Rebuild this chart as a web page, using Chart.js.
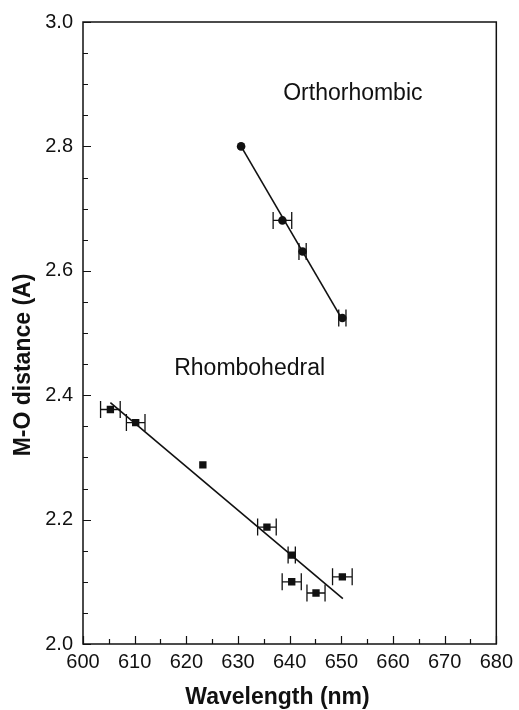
<!DOCTYPE html>
<html>
<head>
<meta charset="utf-8">
<script src="https://cdn.jsdelivr.net/npm/chart.js@4.4.1/dist/chart.umd.min.js"></script>
<style>
  html, body { margin: 0; padding: 0; background: #fff; }
  canvas { display: block; }
</style>
</head>
<body>
<canvas id="chart" width="519" height="710"></canvas>
<script>
// Orthorhombic phase: measured points, horizontal uncertainty and linear fit
const orthoWavelength = [630.6, 638.6, 642.5, 650.2];
const orthoDistance = [2.800, 2.681, 2.631, 2.524];
const orthoWavelengthErr = [0, 1.8, 0.7, 0.7];
const orthoFitWavelength = [630.6, 650.3];
const orthoFitDistance = [2.800, 2.520];

// Rhombohedral phase: measured points, horizontal uncertainty and linear fit
const rhomboWavelength = [605.3, 610.2, 623.2, 635.6, 640.4, 640.4, 645.1, 650.2];
const rhomboDistance = [2.377, 2.356, 2.288, 2.188, 2.143, 2.100, 2.082, 2.108];
const rhomboWavelengthErr = [1.9, 1.8, 0, 1.8, 0.7, 1.85, 1.75, 1.9];
const rhomboFitWavelength = [605.3, 650.3];
const rhomboFitDistance = [2.388, 2.073];

// Labelled tick values (minor ticks fall between them)
const xTickLabels = [600, 610, 620, 630, 640, 650, 660, 670, 680];
const yTickLabels = [2.0, 2.2, 2.4, 2.6, 2.8, 3.0];

const FONT = "'Liberation Sans', Arial, Helvetica, sans-serif";
const INK = '#111';

const near = (a, b) => Math.abs(a - b) < 1e-6;
const isMajorX = v => xTickLabels.some(t => near(t, v));
const isMajorY = v => yTickLabels.some(t => near(t, v));

const toPoints = (xs, ys) => xs.map((x, i) => ({ x, y: ys[i] }));

// Box frame with inward major/minor tick marks on the left and bottom axes
const frameAndTicks = {
  id: 'frameAndTicks',
  afterDraw(chart) {
    const { ctx, chartArea: a, scales: { x, y } } = chart;
    ctx.save();
    ctx.strokeStyle = INK;
    ctx.lineWidth = 1.5;
    ctx.strokeRect(a.left, a.top, a.right - a.left, a.bottom - a.top);
    ctx.lineWidth = 1.2;
    ctx.beginPath();
    x.ticks.forEach(t => {
      const px = Math.round(x.getPixelForValue(t.value)) + 0.5;
      const len = isMajorX(t.value) ? 8 : 5;
      ctx.moveTo(px, a.bottom);
      ctx.lineTo(px, a.bottom - len);
    });
    y.ticks.forEach(t => {
      const py = Math.round(y.getPixelForValue(t.value)) + 0.5;
      const len = isMajorY(t.value) ? 8 : 5;
      ctx.moveTo(a.left, py);
      ctx.lineTo(a.left + len, py);
    });
    ctx.stroke();
    ctx.restore();
  }
};

// Horizontal error bars with end caps
const errorBars = {
  id: 'errorBars',
  afterDatasetsDraw(chart) {
    const { ctx, scales: { x } } = chart;
    ctx.save();
    ctx.strokeStyle = INK;
    ctx.lineWidth = 1.3;
    chart.data.datasets.forEach((ds, di) => {
      if (!ds.xErr) return;
      const meta = chart.getDatasetMeta(di);
      ds.data.forEach((p, i) => {
        const e = ds.xErr[i];
        if (!e) return;
        const py = meta.data[i].y;
        const x0 = x.getPixelForValue(p.x - e);
        const x1 = x.getPixelForValue(p.x + e);
        const cap = 8.5;
        ctx.beginPath();
        ctx.moveTo(x0, py); ctx.lineTo(x1, py);
        ctx.moveTo(x0, py - cap); ctx.lineTo(x0, py + cap);
        ctx.moveTo(x1, py - cap); ctx.lineTo(x1, py + cap);
        ctx.stroke();
      });
    });
    ctx.restore();
  }
};

// Phase names and axis titles
const annotations = {
  id: 'annotations',
  afterDraw(chart, args, opts) {
    const { ctx, scales: { x, y } } = chart;
    ctx.save();
    ctx.fillStyle = INK;
    ctx.font = `23px ${FONT}`;
    ctx.textAlign = 'left';
    ctx.textBaseline = 'middle';
    opts.labels.forEach(l => {
      ctx.fillText(l.text, x.getPixelForValue(l.x), y.getPixelForValue(l.y));
    });

    ctx.font = `bold 23px ${FONT}`;
    ctx.textAlign = 'center';
    ctx.textBaseline = 'alphabetic';
    ctx.fillText(opts.xTitle, 277.5, 704);

    ctx.translate(30, 365);
    ctx.rotate(-Math.PI / 2);
    ctx.fillText(opts.yTitle, 0, 0);
    ctx.restore();
  }
};

new Chart(document.getElementById('chart'), {
  type: 'scatter',
  data: {
    datasets: [
      {
        label: 'Orthorhombic fit',
        data: toPoints(orthoFitWavelength, orthoFitDistance),
        showLine: true,
        borderColor: INK,
        borderWidth: 1.6,
        pointRadius: 0
      },
      {
        label: 'Rhombohedral fit',
        data: toPoints(rhomboFitWavelength, rhomboFitDistance),
        showLine: true,
        borderColor: INK,
        borderWidth: 1.6,
        pointRadius: 0
      },
      {
        label: 'Orthorhombic',
        data: toPoints(orthoWavelength, orthoDistance),
        xErr: orthoWavelengthErr,
        pointStyle: 'circle',
        pointRadius: 4.3,
        backgroundColor: INK,
        borderColor: INK,
        borderWidth: 0
      },
      {
        label: 'Rhombohedral',
        data: toPoints(rhomboWavelength, rhomboDistance),
        xErr: rhomboWavelengthErr,
        pointStyle: 'rect',
        pointRadius: 5.2,
        backgroundColor: INK,
        borderColor: INK,
        borderWidth: 0
      }
    ]
  },
  options: {
    responsive: false,
    animation: false,
    devicePixelRatio: 1,
    layout: { padding: { top: 20, right: 19, left: 0, bottom: 0 } },
    plugins: {
      legend: { display: false },
      tooltip: { enabled: false },
      annotations: {
        labels: [
          { text: 'Orthorhombic', x: 638.75, y: 2.885 },
          { text: 'Rhombohedral', x: 617.65, y: 2.442 }
        ],
        xTitle: 'Wavelength (nm)',
        yTitle: 'M-O distance (A)'
      }
    },
    scales: {
      x: {
        type: 'linear',
        min: 600,
        max: 680,
        grid: { display: false, drawTicks: false },
        border: { display: false },
        ticks: {
          stepSize: 5,
          autoSkip: false,
          maxRotation: 0,
          padding: 6,
          color: INK,
          font: { family: FONT, size: 20 },
          callback: v => (isMajorX(v) ? String(Math.round(v)) : '')
        },
        afterFit(scale) { scale.height = 66; }
      },
      y: {
        type: 'linear',
        min: 2.0,
        max: 3.0,
        grid: { display: false, drawTicks: false },
        border: { display: false },
        ticks: {
          stepSize: 0.05,
          autoSkip: false,
          padding: 10,
          color: INK,
          font: { family: FONT, size: 20 },
          callback: v => (isMajorY(v) ? v.toFixed(1) : '')
        },
        afterFit(scale) { scale.width = 83; }
      }
    }
  },
  plugins: [frameAndTicks, errorBars, annotations]
});
</script>
</body>
</html>
